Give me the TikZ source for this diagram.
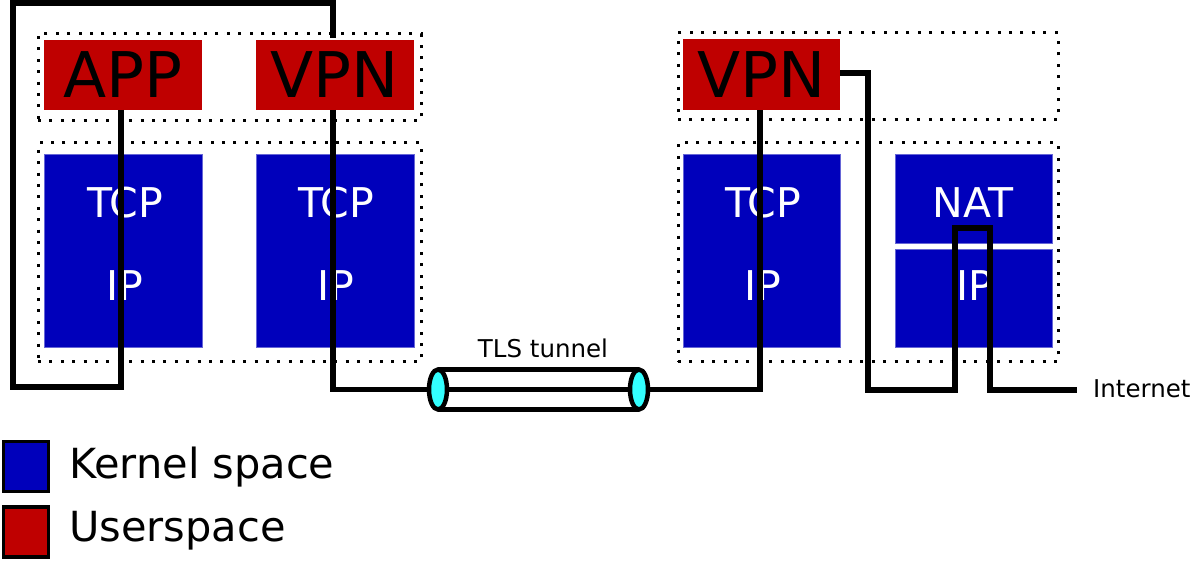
\documentclass[tikz,border=0pt]{standalone}
\usepackage{fontspec}
\setmainfont{DejaVu Sans}
\usetikzlibrary{shapes.geometric}
\definecolor{ured}{RGB}{191,0,0}
\definecolor{kblue}{RGB}{0,0,187}
\definecolor{tcyan}{RGB}{51,255,255}
\tikzset{
  userbox/.style={fill=ured, draw=none, inner sep=0pt, minimum width=158pt, minimum height=70pt, text=black, font=\fontsize{63}{63}\selectfont},
  kernbox/.style={fill=kblue, draw=kblue!60!white, line width=1pt, inner sep=0pt, minimum width=158pt},
  ktext/.style={text=white, inner sep=0pt, font=\fontsize{41}{41}\selectfont},
  frame/.style={draw=black, line width=3pt, dash pattern=on 3pt off 8.4pt, inner sep=0pt},
  wire/.style={draw=black, line width=5.8pt, line join=miter},
  small/.style={inner sep=0pt, font=\fontsize{24.5}{24.5}\selectfont},
  legbox/.style={draw=black, line width=3.5pt, inner sep=0pt, minimum width=45pt, minimum height=50pt},
  legtext/.style={inner sep=0pt, anchor=west, font=\fontsize{41.5}{41.5}\selectfont},
  endcap/.style={ellipse, draw=black, line width=4.5pt, fill=tcyan, minimum width=18pt, minimum height=40pt, inner sep=0pt}
}
\begin{document}
\begin{tikzpicture}[x=1pt,y=-1pt]
\useasboundingbox (0,0) rectangle (1192,561);
% dotted frames
\node[frame, minimum width=383pt, minimum height=87pt] (uf1) at (229.5,77.5) {};
\node[frame, minimum width=383pt, minimum height=219pt] (kf1) at (229.5,252.5) {};
\node[frame, minimum width=380pt, minimum height=87pt] (uf2) at (868,76.5) {};
\node[frame, minimum width=380pt, minimum height=219pt] (kf2) at (868,252.5) {};
% userspace boxes
\node[userbox] (app) at (123,75) {APP};
\node[userbox] (vpn1) at (335,75) {VPN};
\node[userbox, minimum width=157pt, minimum height=71pt] (vpn2) at (761.5,74.5) {VPN};
% kernel boxes
\node[kernbox, minimum height=193pt] (k1) at (123,251.5) {};
\node[kernbox, minimum height=193pt] (k2) at (335,251.5) {};
\node[kernbox, minimum width=157pt, minimum height=193pt] (k3) at (761.5,251.5) {};
\node[kernbox, minimum width=157pt, minimum height=89pt] (nat) at (973.5,199.5) {};
\node[kernbox, minimum width=157pt, minimum height=98pt] (ip4) at (973.5,299) {};
\node[ktext] (tcp1) at (125,203) {TCP};
\node[ktext] (ip1) at (125,286) {IP};
\node[ktext] (tcp2) at (336,203) {TCP};
\node[ktext] (ip2) at (336,286) {IP};
\node[ktext] (tcp3) at (763,203) {TCP};
\node[ktext] (ip3) at (763,286) {IP};
\node[ktext] (natt) at (973,203) {NAT};
\node[ktext] (ip4t) at (975,286) {IP};
% tunnel
\node[small] (tls) at (543,348) {TLS tunnel};
\coordinate (tlc) at (438,389.5);
\coordinate (trc) at (639,389.5);
\fill[white] (438,369.5) rectangle (639,409.5);
\draw[line width=4.5pt] (438,369.5) -- (639,369.5);
\draw[line width=4.5pt] (438,409.5) -- (639,409.5);
\draw[wire] (tlc) -- (trc);
\node[endcap] (tl) at (tlc) {};
\node[endcap] (tr) at (trc) {};
% internet
\node[small, anchor=west] (inet) at (1093,389) {Internet};
% wires
\coordinate (a1) at (121,110);
\coordinate (v1) at (333,110);
\coordinate (v1t) at (333,38);
\draw[wire] (a1) -- (121,387) -- (13,387) -- (13,3) -- (333,3) -- (v1t);
\draw[wire] (v1) -- (v1 |- tl.west) -- (tl.west);
\coordinate (v2) at (760,110);
\draw[wire] (tr.east) -- (tr.east -| v2) -- (v2);
\coordinate (v2e) at (840,73);
\coordinate (n1) at (868,390);
\coordinate (n2) at (955,228);
\coordinate (n3) at (990,390);
\draw[wire] (v2e) -- (v2e -| n1) -- (n1) -- (n1 -| n2) -- (n2) -- (n2 -| n3) -- (n3) -- ([xshift=-16pt]inet.west |- n3);
% legend
\node[legbox, fill=kblue] (lk) at (26,466.5) {};
\node[legbox, fill=ured] (lu) at (26,532) {};
\node[legtext] (lkt) at (69,467) {Kernel space};
\node[legtext] (lut) at (69,531) {Userspace};
\end{tikzpicture}
\end{document}
